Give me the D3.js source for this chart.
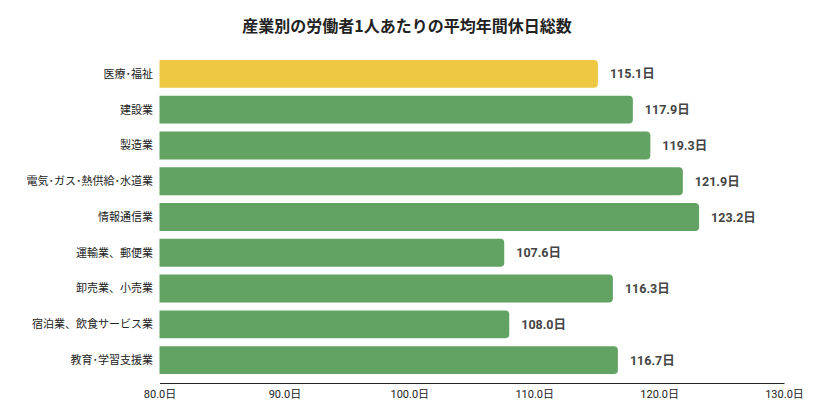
<!DOCTYPE html>
<html>
<head>
<meta charset="utf-8">
<script src="https://cdn.jsdelivr.net/npm/d3@7"></script>
<style>
  body { margin: 0; background: #fff; }
  svg { display: block; font-family: "Noto Sans CJK JP", "Noto Sans", sans-serif; }
</style>
</head>
<body>
<svg width="813" height="410"></svg>
<script>
// data
const categories = ["医療･福祉", "建設業", "製造業", "電気･ガス･熱供給･水道業", "情報通信業",
  "運輸業、郵便業", "卸売業、小売業", "宿泊業、飲食サービス業", "教育･学習支援業"];
const values = [115.1, 117.9, 119.3, 121.9, 123.2, 107.6, 116.3, 108.0, 116.7];
const xTicks = [80, 90, 100, 110, 120, 130];
const highlight = "医療･福祉";

const svg = d3.select("svg");

let x = d3.scaleLinear().domain([80, 130]).range([159.5, 784]);
let y = d3.scaleBand().domain(categories).range([56, 378])
  .paddingInner(0.22).paddingOuter(0.11);

// title
svg.append("text")
  .attr("x", 407).attr("y", 32)
  .attr("text-anchor", "middle")
  .attr("font-size", 16).attr("font-weight", "bold")
  .attr("fill", "#222")
  .text("産業別の労働者1人あたりの平均年間休日総数");

// bar with rounded right end only
function barPath(x0, x1, y0, h, r) {
  r = Math.min(r, (x1 - x0) / 2);
  return `M${x0},${y0}H${x1 - r}Q${x1},${y0} ${x1},${y0 + r}V${y0 + h - r}Q${x1},${y0 + h} ${x1 - r},${y0 + h}H${x0}Z`;
}

const rows = categories.map((c, i) => ({ cat: c, v: values[i] }));

svg.append("g").selectAll("path").data(rows).join("path")
  .attr("d", d => barPath(x(80), x(d.v), y(d.cat), y.bandwidth(), 4))
  .attr("fill", d => d.cat === highlight ? "#EEC843" : "#62A363");

// category labels
svg.append("g").selectAll("text").data(rows).join("text")
  .attr("x", 153)
  .attr("y", d => y(d.cat) + y.bandwidth() / 2)
  .attr("dy", "0.35em")
  .attr("text-anchor", "end")
  .attr("font-size", 11)
  .attr("fill", "#222")
  .text(d => d.cat);

// value labels
svg.append("g").selectAll("text").data(rows).join("text")
  .attr("x", d => x(d.v) + 12)
  .attr("y", d => y(d.cat) + y.bandwidth() / 2)
  .attr("dy", "0.36em")
  .attr("font-size", 12.5).attr("font-weight", "bold")
  .attr("fill", "#444")
  .style("font-family", "Roboto, \"Noto Sans CJK JP\", sans-serif")
  .text(d => d.v.toFixed(1) + "日");

// x axis
const axis = svg.append("g")
  .attr("transform", "translate(0,383)")
  .call(d3.axisBottom(x).tickValues(xTicks).tickSize(0).tickPadding(7)
    .tickFormat(d => d.toFixed(1) + "日"));
axis.select(".domain").attr("stroke", "#222").attr("stroke-width", 1);
axis.selectAll("text")
  .attr("font-size", 11)
  .attr("fill", "#222")
  .style("font-family", "Roboto, \"Noto Sans CJK JP\", sans-serif");
</script>
</body>
</html>
